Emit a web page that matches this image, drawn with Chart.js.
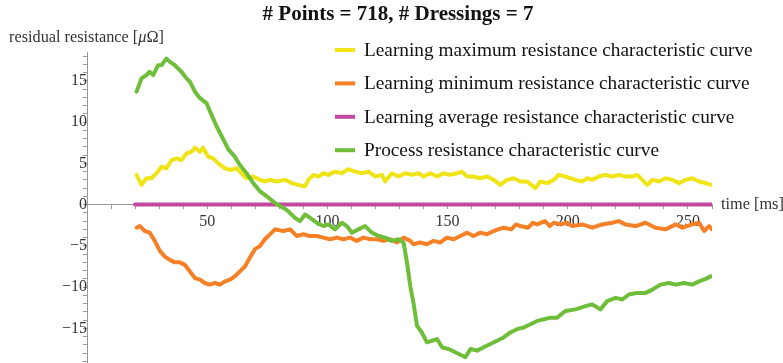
<!DOCTYPE html>
<html>
<head>
<meta charset="utf-8">
<script src="https://cdn.jsdelivr.net/npm/chart.js@4"></script>
<style>
  body { margin: 0; background: #fff; }
  #chart { display: block; }
</style>
</head>
<body>
<canvas id="chart" width="783" height="363"></canvas>
<script>
const TITLE = '# Points = 718, # Dressings = 7'
const Y_LABEL = 'residual resistance ['
const X_LABEL = 'time [ms]'

const seriesNames = [
  'Learning maximum resistance characteristic curve',
  'Learning minimum resistance characteristic curve',
  'Learning average resistance characteristic curve',
  'Process resistance characteristic curve'
]

// max curve (yellow)
const maxX = [20.6,22.7,24.7,26.8,28.9,31,33,35.2,37.3,39.3,41.4,43.5,44.9,47,48.3,50.4,52.5,54.6,57.4,59.5,62.3,64.3,66.4,69.2,72,74,76.1,78.9,82.4,85.2,87.9,90.7,92.1,94.2,96.3,98.3,100.4,103.2,106,108.7,111.5,114.3,117.1,119.9,122.7,124,126.8,129.6,132.4,135.2,137.9,140,142.8,145.6,148.3,151.1,153.9,156,158.1,160.8,163.6,166.4,169.2,171.9,174.7,177.5,180.3,183.1,186.5,188.6,191.4,194.2,196.2,199,203.2,206,208.1,210.2,212.9,215.7,218.5,221.3,224,226.8,228.9,231,233.1,235.2,237.9,240.7,243.5,246.3,249,251.8,254.6,257.4,259.5]
const maxY = [3.6,2.4,3.2,3.2,3.8,4.6,4.4,5.4,5.6,5.4,6.2,6.4,6.9,6.4,6.9,5.8,5.6,5.0,4.4,4.2,4.4,3.8,3.2,3.4,3.0,2.8,3.0,2.8,3.0,2.6,2.4,2.2,3.0,3.6,3.4,3.8,3.6,4.0,3.8,4.3,4.0,3.8,4.0,3.4,3.6,2.8,3.8,3.4,3.8,3.6,3.8,3.4,3.8,3.4,3.8,3.6,3.8,4.0,3.4,3.4,3.2,3.4,3.0,2.4,3.0,3.2,2.8,2.8,2.0,2.8,2.6,3.0,3.6,3.4,3.0,2.8,3.2,3.0,3.4,3.6,3.4,3.6,3.4,3.4,3.6,3.0,2.4,3.0,2.8,3.2,3.0,2.6,3.0,3.2,2.8,2.6,2.4]

// min curve (orange)
const minX = [20.6,22,24,26.1,28.2,30.3,32.4,34.5,36.5,38.6,40.7,42.8,44.9,47,49,51.1,53.2,55.3,57.4,59.5,61.5,63.6,65.7,67.8,69.9,72,74,76.1,78.2,81.7,84.5,87.2,90,92.8,95.6,98.3,101.1,103.9,106.7,109.5,112.2,115,117.8,120.6,123.3,126.1,128.9,131.7,134.5,135.8,138.6,141.4,144.2,146.9,149.7,152.5,155.3,158.1,160.8,163.6,166.4,169.2,171,173.3,176.5,178.5,180.3,183.5,185.5,187.3,190.5,192.5,194.2,197,199.7,201.8,206,210.2,214.3,218.5,221.3,224,228.2,232.4,236.5,240.7,244.9,247.7,251.8,254.6,256.7,258.8,260]
const minY = [-2.8,-2.6,-3.2,-3.4,-4.4,-5.6,-6.3,-6.7,-7.0,-7.0,-7.3,-8.1,-8.9,-9.1,-9.5,-9.7,-9.5,-9.7,-9.3,-9.1,-8.7,-8.1,-7.5,-6.4,-5.4,-5.0,-4.2,-3.6,-3.0,-3.2,-3.0,-3.8,-3.6,-3.8,-3.8,-4.0,-4.2,-4.0,-4.2,-4.0,-4.4,-4.0,-4.2,-4.2,-4.4,-4.2,-4.6,-4.0,-4.4,-4.8,-4.6,-4.8,-4.4,-4.6,-4.0,-4.2,-3.8,-3.4,-3.8,-3.4,-3.6,-3.2,-3.0,-2.8,-3.0,-2.4,-2.6,-2.8,-2.2,-2.4,-2.0,-2.6,-2.2,-2.4,-2.2,-2.6,-2.4,-2.8,-2.4,-2.2,-2.0,-2.4,-2.6,-2.2,-2.8,-3.0,-2.4,-2.8,-2.4,-2.2,-3.2,-2.6,-3.0]

// average curve (magenta)
const avgX = [20, 260]
const avgY = [0, 0]

// process curve (green)
const procX = [20.6,22.7,24.7,26,27.5,29.6,31,33,34.5,36.5,39.3,41.4,42.8,44.9,47,49.7,51.8,53.9,56.7,58.8,61.5,63.6,66.4,69.2,72,74.8,78.2,81.7,83.7,86.5,88.6,90.7,92.8,95.6,98.3,100.4,103.2,106,108.1,110.2,112.9,115.7,118.5,121.3,124,126.8,129.6,131.7,133.1,134.5,135.8,137.3,139.3,141.4,143.5,145.6,147.7,150.4,153.2,156,157.4,159.5,162.3,165,167.8,170.6,173.3,176.1,178.9,181.7,184.5,187.3,190,192.8,195.6,199,203.2,207.4,210.2,213.6,216.4,219.9,222.7,225.4,228.9,232.4,235.2,238.6,242.1,244.9,248.3,251.8,254.6,257.4,259.5]
const procY = [13.7,15.3,15.7,16.1,15.7,16.9,16.9,17.7,17.3,16.9,16.1,15.3,14.9,13.7,12.9,12.3,10.9,9.5,7.9,6.7,5.8,4.8,3.8,2.6,1.6,1.0,0.2,-0.4,-0.8,-1.6,-2.0,-1.2,-1.6,-2.2,-2.6,-2.4,-3.0,-2.2,-2.6,-3.4,-3.0,-2.6,-3.4,-3.8,-4.0,-4.4,-4.2,-4.6,-7.0,-9.9,-11.9,-14.7,-15.5,-16.7,-16.5,-16.3,-17.3,-17.5,-17.9,-18.3,-18.5,-17.5,-17.7,-17.3,-16.9,-16.5,-16.1,-15.5,-15.1,-14.9,-14.5,-14.1,-13.9,-13.7,-13.7,-12.9,-12.7,-12.3,-12.1,-12.7,-11.7,-11.3,-11.5,-10.9,-10.7,-10.7,-10.3,-9.7,-9.5,-9.7,-9.5,-9.7,-9.3,-9.0,-8.7]

const colors = ['rgb(240,228,22)', 'rgb(246,128,38)', 'rgb(196,72,160)', 'rgb(110,190,58)']

function pts (xs, ys) {
  return xs.map((x, i) => ({ x: x, y: ys[i] }))
}

const SERIF = '"Liberation Serif", "DejaVu Serif", serif'

const overlay = {
  id: 'overlay',
  afterDraw (chart) {
    const ctx = chart.ctx
    ctx.save()
    ctx.fillStyle = '#111'
    ctx.textBaseline = 'middle'

    // title
    ctx.font = 'bold 21px ' + SERIF
    ctx.textAlign = 'center'
    ctx.fillText(TITLE, 398, 15)

    // axis labels
    ctx.textAlign = 'left'
    ctx.fillStyle = '#333'
    ctx.font = '16.3px ' + SERIF
    ctx.fillText(Y_LABEL, 9, 38)
    let w = ctx.measureText(Y_LABEL).width
    ctx.font = 'italic 16.3px ' + SERIF
    ctx.fillText('\u03bc', 9 + w, 38)
    w += ctx.measureText('\u03bc').width
    ctx.font = '16.3px ' + SERIF
    ctx.fillText('\u03a9]', 9 + w, 38)

    const y0 = chart.scales.y.getPixelForValue(0)
    ctx.fillText(X_LABEL, 721, y0)

    // legend
    ctx.font = '19.3px ' + SERIF
    ctx.fillStyle = '#111'
    seriesNames.forEach((name, i) => {
      const ly = 50 + i * 33.4
      ctx.strokeStyle = colors[i]
      ctx.lineWidth = 4
      ctx.beginPath()
      ctx.moveTo(335, ly)
      ctx.lineTo(355, ly)
      ctx.stroke()
      ctx.fillText(name, 364, ly + 1)
    })
    ctx.restore()
  }
}

function tickLabel (v, every) {
  const r = Math.round(v)
  if (r % every !== 0) return ''
  return r < 0 ? '\u2212' + Math.abs(r) : String(r)
}

new Chart(document.getElementById('chart'), {
  type: 'line',
  data: {
    datasets: [
      { label: seriesNames[0], data: pts(maxX, maxY), borderColor: colors[0], order: 4 },
      { label: seriesNames[1], data: pts(minX, minY), borderColor: colors[1], order: 3 },
      { label: seriesNames[2], data: pts(avgX, avgY), borderColor: colors[2], order: 2 },
      { label: seriesNames[3], data: pts(procX, procY), borderColor: colors[3], order: 1 }
    ]
  },
  options: {
    responsive: false,
    animation: false,
    layout: { padding: { left: 87, right: 71, top: 52, bottom: 0 } },
    elements: {
      point: { radius: 0 },
      line: { borderWidth: 4, tension: 0, borderCapStyle: 'round', borderJoinStyle: 'round' }
    },
    plugins: {
      legend: { display: false },
      title: { display: false },
      tooltip: { enabled: false }
    },
    scales: {
      x: {
        type: 'linear',
        position: { y: 0 },
        min: 0,
        max: 260,
        afterFit: s => { s.height = 0; s.paddingLeft = 0; s.paddingRight = 0 },
        border: { color: '#9a9a9a', width: 1 },
        grid: { drawOnChartArea: false, drawTicks: true, tickLength: 4, color: '#9a9a9a' },
        ticks: {
          stepSize: 10,
          autoSkip: false,
          maxRotation: 0,
          includeBounds: false,
          padding: 4,
          color: '#333',
          font: { family: SERIF, size: 16 },
          callback: v => (Math.round(v) === 0 ? '' : tickLabel(v, 50))
        }
      },
      y: {
        type: 'linear',
        position: { x: 0 },
        min: -19.2,
        max: 18.5,
        afterFit: s => { s.width = 0; s.paddingTop = 0; s.paddingBottom = 0 },
        border: { color: '#9a9a9a', width: 1 },
        grid: { drawOnChartArea: false, drawTicks: true, tickLength: 4, color: '#9a9a9a' },
        ticks: {
          stepSize: 1,
          autoSkip: false,
          includeBounds: false,
          padding: 5,
          color: '#333',
          font: { family: SERIF, size: 16 },
          callback: v => tickLabel(v, 5)
        }
      }
    }
  },
  plugins: [overlay]
})
</script>
</body>
</html>
